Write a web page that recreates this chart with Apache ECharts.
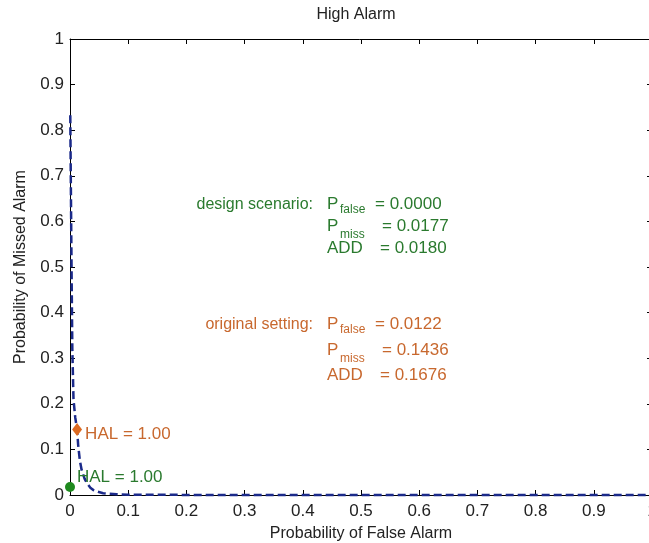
<!DOCTYPE html>
<html>
<head>
<meta charset="utf-8">
<script src="https://cdn.jsdelivr.net/npm/echarts@6/dist/echarts.min.js"></script>
<style>html,body{margin:0;padding:0;background:#fff}#c{width:649px;height:543px}</style>
</head>
<body>
<div id="c"></div>
<script>
// ---- data ----
const chartTitle = 'High Alarm';
const xAxisName = 'Probability of False Alarm';
const yAxisName = 'Probability of Missed Alarm';
const curveX = [0.0005, 0.001, 0.002, 0.003, 0.004, 0.006, 0.009, 0.0122, 0.014, 0.017, 0.020, 0.025, 0.029, 0.035, 0.040, 0.048, 0.057, 0.068, 0.080, 0.100, 0.300, 0.600, 1.000];
const curveY = [0.833, 0.75, 0.60, 0.45, 0.32, 0.21, 0.17, 0.1436, 0.11, 0.075, 0.055, 0.036, 0.026, 0.016, 0.011, 0.007, 0.004, 0.0025, 0.0015, 0.0005, 0, 0, 0];
const designPoint = [0, 0.0177];
const originalPoint = [0.0122, 0.1436];
const designLabel = 'HAL = 1.00';
const originalLabel = 'HAL = 1.00';
const designHeading = 'design scenario:';
const originalHeading = 'original setting:';
const rowNames = [['P', 'false'], ['P', 'miss'], ['ADD', '']];
const designValues = ['0.0000', '0.0177', '0.0180'];
const originalValues = ['0.0122', '0.1436', '0.1676'];

// ---- style ----
const WORD = '"Liberation Sans", Arial, sans-serif';
const NUM = '"Liberation Sans", Arial, sans-serif';
const GREEN = '#2a7a2e';
const ORANGE = '#c8682e';
const CURVE = '#1b2a8a';

function block(heading, values, color, baselines) {
  const els = [];
  const eqX = [375, 382, 380];
  const subOff = [4, 7, 0];
  els.push({type: 'text', silent: true, style: {x: 313, y: baselines[0] - 5.5, text: heading, fill: color, font: '16px ' + WORD, align: 'right', verticalAlign: 'middle'}});
  rowNames.forEach((r, i) => {
    const b = baselines[i];
    els.push({type: 'text', silent: true, style: {x: 327, y: b - 6, text: r[0], fill: color, font: '17px ' + WORD, align: 'left', verticalAlign: 'middle'}});
    if (r[1]) els.push({type: 'text', silent: true, style: {x: 340, y: b + subOff[i] - 4.2, text: r[1], fill: color, font: '12px ' + WORD, align: 'left', verticalAlign: 'middle'}});
    els.push({type: 'text', silent: true, style: {x: eqX[i], y: b - 6, text: '= ' + values[i], fill: color, font: '17px ' + NUM, align: 'left', verticalAlign: 'middle'}});
  });
  return els;
}

const axisCommon = {
  type: 'value', min: 0, max: 1, interval: 0.1,
  splitLine: {show: false},
  axisLine: {show: true, onZero: false, lineStyle: {color: '#000', width: 1}},
  axisTick: {show: true, inside: true, length: 5, lineStyle: {color: '#000', width: 1}},
};

const chart = echarts.init(document.getElementById('c'), null, {renderer: 'canvas'});
chart.setOption({
  backgroundColor: '#fff',
  animation: false,
  grid: {left: 70, top: 39, width: 582, height: 456, containLabel: false, outerBoundsMode: 'none'},
  xAxis: [
    Object.assign({}, axisCommon, {
      position: 'bottom',
      axisLabel: {show: true, margin: 8, color: '#222', fontFamily: NUM, fontSize: 17, showMinLabel: true, showMaxLabel: true},
      name: xAxisName, nameLocation: 'middle', nameGap: 31,
      nameTextStyle: {color: '#222', fontFamily: WORD, fontSize: 16}
    }),
    Object.assign({}, axisCommon, {position: 'top', axisLabel: {show: false}})
  ],
  yAxis: [
    Object.assign({}, axisCommon, {
      position: 'left',
      axisLabel: {show: true, margin: 6, color: '#222', fontFamily: NUM, fontSize: 17, showMinLabel: true, showMaxLabel: true},
      name: yAxisName, nameLocation: 'middle', nameGap: 41,
      nameTextStyle: {color: '#222', fontFamily: WORD, fontSize: 16}
    }),
    Object.assign({}, axisCommon, {position: 'right', axisLabel: {show: false}})
  ],
  series: [
    {
      type: 'line', xAxisIndex: 0, yAxisIndex: 0, clip: false, showSymbol: false, symbol: 'none', z: 3,
      data: curveX.map((x, i) => [x, curveY[i]]),
      lineStyle: {color: CURVE, width: 2.5, type: [8, 4]}
    },
    {
      type: 'scatter', clip: false, symbol: 'diamond', symbolSize: [10, 13], z: 5,
      itemStyle: {color: '#dc6a22', opacity: 1},
      data: [originalPoint],
      label: {show: true, position: 'right', distance: 3, offset: [0, 5], formatter: originalLabel, color: ORANGE, fontFamily: WORD, fontSize: 17}
    },
    {
      type: 'scatter', clip: false, symbol: 'circle', symbolSize: 10, z: 5,
      itemStyle: {color: '#1e8a1e', opacity: 1},
      data: [designPoint],
      label: {show: true, position: 'right', distance: 2, offset: [0, -10], formatter: designLabel, color: GREEN, fontFamily: WORD, fontSize: 17}
    }
  ],
  graphic: [
    {type: 'text', silent: true, style: {x: 356, y: 14.5, text: chartTitle, fill: '#222', font: '16px ' + WORD, align: 'center', verticalAlign: 'middle'}}
  ].concat(block(designHeading, designValues, GREEN, [210, 232, 254]))
   .concat(block(originalHeading, originalValues, ORANGE, [330, 356, 381]))
});
</script>
</body>
</html>
